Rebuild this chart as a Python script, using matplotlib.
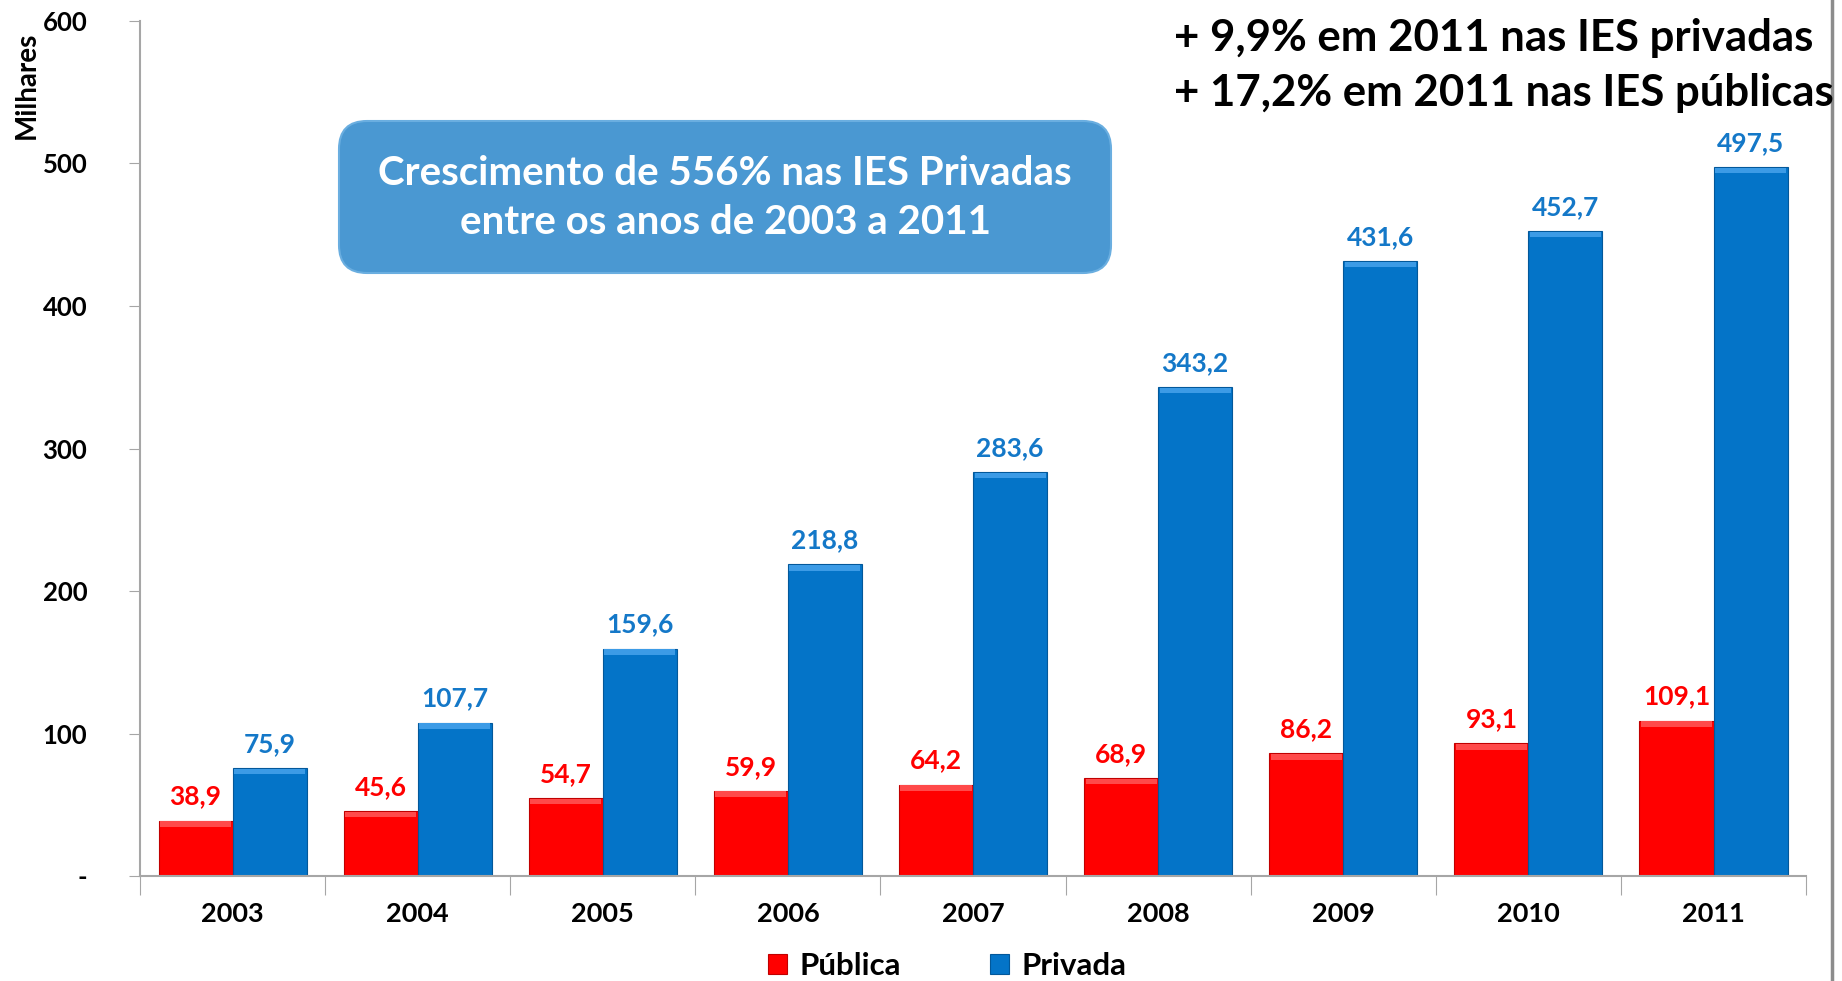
import matplotlib
matplotlib.use("Agg")
import matplotlib.pyplot as plt
import numpy as np
from matplotlib.patches import FancyBboxPatch
from matplotlib.lines import Line2D

plt.rcParams['font.family'] = ['Lato', 'DejaVu Sans']

# Dados (milhares de ingressantes)
anos = ['2003', '2004', '2005', '2006', '2007', '2008', '2009', '2010', '2011']
publica = [38.9, 45.6, 54.7, 59.9, 64.2, 68.9, 86.2, 93.1, 109.1]
privada = [75.9, 107.7, 159.6, 218.8, 283.6, 343.2, 431.6, 452.7, 497.5]
yticks = [0, 100, 200, 300, 400, 500, 600]
ytick_labels = ['-', '100', '200', '300', '400', '500', '600']

cor_pub = '#FF0000'
cor_priv = '#0474C8'

W, H = 1842, 981
fig = plt.figure(figsize=(W / 100, H / 100), dpi=100)
ax = fig.add_axes([0.076, 0.107, 0.9045, 0.8716])

x = np.arange(len(anos))
w = 0.4
b1 = ax.bar(x - w / 2, publica, w, color=cor_pub, edgecolor='#C00000', linewidth=0.8, label='Pública', zorder=2)
b2 = ax.bar(x + w / 2, privada, w, color=cor_priv, edgecolor='#03589A', linewidth=0.8, label='Privada', zorder=2)

# faixa clara no topo das barras (efeito de bisel)
ax.bar(x - w / 2, [4] * len(anos), w * 0.96, bottom=np.array(publica) - 4.5, color='#FF4A4A', linewidth=0, zorder=3)
ax.bar(x + w / 2, [4] * len(anos), w * 0.96, bottom=np.array(privada) - 4.5, color='#3C9BE6', linewidth=0, zorder=3)

for xi, v in zip(x, publica):
    ax.annotate(f'{v:.1f}'.replace('.', ','), (xi - w / 2, v), xytext=(0, 12), textcoords='offset pixels',
                ha='center', va='bottom', color=cor_pub, fontsize=19, fontweight='bold')
for xi, v in zip(x, privada):
    ax.annotate(f'{v:.1f}'.replace('.', ','), (xi + w / 2, v), xytext=(0, 12), textcoords='offset pixels',
                ha='center', va='bottom', color='#1478C8', fontsize=19, fontweight='bold')

ax.set_xlim(-0.5, len(anos) - 0.5)
ax.set_ylim(0, 600)
ax.set_yticks(yticks)
ax.set_yticklabels(ytick_labels, fontsize=18.5, fontweight='bold')
ax.set_xticks(np.arange(len(anos) + 1) - 0.5, minor=False)
ax.set_xticklabels([])
ax.set_xticks(x, minor=True)
ax.set_xticklabels(anos, minor=True, fontsize=19.5, fontweight='bold')
ax.tick_params(axis='x', which='minor', length=0, pad=19)
ax.tick_params(axis='x', which='major', length=14, color='#A6A6A6', direction='out')
ax.tick_params(axis='y', length=8, color='#A6A6A6', pad=30)

for s in ['top', 'right']:
    ax.spines[s].set_visible(False)
ax.spines['left'].set_color('#A6A6A6')
ax.spines['bottom'].set_color('#A6A6A6')
ax.spines['left'].set_linewidth(1.5)
ax.spines['bottom'].set_linewidth(1.5)

fig.text(27 / W, 1 - 85 / H, 'Milhares', rotation=90, ha='center', va='center', fontsize=20, fontweight='bold')

# caixa de destaque (coordenadas em pixels, origem embaixo)
caixa = FancyBboxPatch((339, H - 273), 772, 152, boxstyle='round,pad=0,rounding_size=28',
                       transform=None, facecolor='#4A98D2', edgecolor='#6AAEE0', linewidth=1.5, zorder=5)
fig.patches.append(caixa)
fig.text(725 / W, 1 - 198 / H, 'Crescimento de 556% nas IES Privadas\nentre os anos de 2003 a 2011',
         ha='center', va='center', color='white', fontsize=29, fontweight='bold', linespacing=1.38, zorder=6)

fig.text(1174 / W, 1 - 38 / H, '+ 9,9% em 2011 nas IES privadas', ha='left', va='center',
         fontsize=31.5, fontweight='bold')
fig.text(1174 / W, 1 - 93 / H, '+ 17,2% em 2011 nas IES públicas', ha='left', va='center',
         fontsize=31.5, fontweight='bold')

# linha vertical na borda direita do slide
fig.add_artist(Line2D([1832 / W, 1832 / W], [0, 1], color='#8C8C8C', linewidth=2.5))

fig.legend(handles=[b1, b2], loc='center', bbox_to_anchor=(947 / W, 1 - 966 / H), ncol=2,
           frameon=False, prop={'size': 22.5, 'weight': 'bold'}, handlelength=0.6, handleheight=0.6,
           columnspacing=2.85, handletextpad=0.4)

fig.savefig('out.png', dpi=100)
